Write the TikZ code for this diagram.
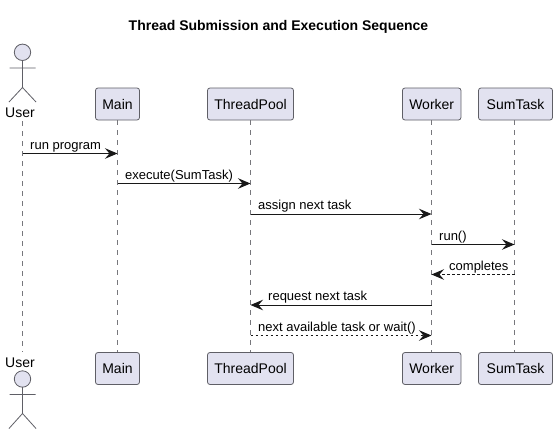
\documentclass[tikz,border=0pt]{standalone}
\usepackage{fontspec}
\setmainfont{Liberation Sans}
\usetikzlibrary{arrows.meta,calc}
\definecolor{partfill}{HTML}{E2E2F0}
\definecolor{partline}{HTML}{5F5F66}
\definecolor{lifeline}{HTML}{77777C}
\definecolor{msgline}{HTML}{181818}
\tikzset{
  x=1pt,y=-1pt,
  participant/.style={draw=partline,fill=partfill,line width=0.8pt,rounded corners=2.5pt,anchor=center,inner sep=0pt,minimum height=32pt,font=\fontsize{14}{16}\selectfont,text=black},
  actorlabel/.style={inner sep=0pt,font=\fontsize{14}{16}\selectfont,text=black},
  lifelinestyle/.style={draw=lifeline,line width=0.8pt,dash pattern=on 5pt off 5pt},
  actorshape/.style={draw=partline,line width=0.8pt},
  msg/.style={draw=msgline,line width=1pt,-{Stealth[length=12.5pt,width=10.5pt,inset=4.5pt]}},
  reply/.style={msg,dash pattern=on 2.5pt off 2.5pt},
  msglabel/.style={inner sep=0pt,anchor=base west,font=\fontsize{13}{15}\selectfont,text=black},
}
\begin{document}
\begin{tikzpicture}
\useasboundingbox (0,0) rectangle (557,434);
\fill[white] (0,0) rectangle (557,434);
\node[inner sep=0pt,font=\fontsize{14}{16}\selectfont\bfseries] (title) at (278.5,26.5) {Thread Submission and Execution Sequence};
% top row
\node[actorlabel] (userT) at (20,113) {User};
\node[participant,minimum width=44pt] (mainT) at (117.5,104) {Main};
\node[participant,minimum width=86pt] (poolT) at (250.5,104) {ThreadPool};
\node[participant,minimum width=58.5pt] (workerT) at (431.7,104) {Worker};
\node[participant,minimum width=74pt] (taskT) at (515.5,104) {SumTask};
% bottom row
\node[actorlabel] (userB) at (20,362.5) {User};
\node[participant,minimum width=44pt] (mainB) at (117.5,368.5) {Main};
\node[participant,minimum width=86pt] (poolB) at (250.5,368.5) {ThreadPool};
\node[participant,minimum width=58.5pt] (workerB) at (431.7,368.5) {Worker};
\node[participant,minimum width=74pt] (taskB) at (515.5,368.5) {SumTask};
% lifeline ends
\coordinate (uTop) at (22.5,121);
\coordinate (uBot) at (22.5,352);
\coordinate (mTop) at (117.5,120);
\coordinate (mBot) at (117.5,352);
\coordinate (pTop) at (250.5,120);
\coordinate (pBot) at (250.5,352);
\coordinate (wTop) at (431.5,120);
\coordinate (wBot) at (431.5,352);
\coordinate (sTop) at (514.5,120);
\coordinate (sBot) at (514.5,352);
\draw[lifelinestyle] (uTop) -- (uBot);
\draw[lifelinestyle] (mTop) -- (mBot);
\draw[lifelinestyle] (pTop) -- (pBot);
\draw[lifelinestyle] (wTop) -- (wBot);
\draw[lifelinestyle] (sTop) -- (sBot);
% actors
\draw[actorshape,fill=partfill] (22.5,52.3) circle (8.2);
\draw[actorshape] (22.5,60.5) -- (22.5,87.5) (9.5,68) -- (35.5,68) (9,102) -- (22.5,87.5) -- (36,102);
\draw[actorshape,fill=partfill] (22.5,379) circle (8.2);
\draw[actorshape] (22.5,387.2) -- (22.5,413.5) (9.5,394.5) -- (35.5,394.5) (9,428.5) -- (22.5,413.5) -- (36,428.5);
% messages
\draw[msg] ($(uTop)+(0,32.5)$) coordinate (a1) -- (a1 -| mTop);
\node[msglabel] (l1) at (30,149) {run program};
\draw[msg] ($(mTop)+(0,63.5)$) coordinate (a2) -- (a2 -| pTop);
\node[msglabel] (l2) at (125,179) {execute(SumTask)};
\draw[msg] ($(pTop)+(0,94)$) coordinate (a3) -- (a3 -| wTop);
\node[msglabel] (l3) at (258,209.5) {assign next task};
\draw[msg] ($(wTop)+(0,124.5)$) coordinate (a4) -- (a4 -| sTop);
\node[msglabel] (l4) at (439,240) {run()};
\draw[reply] ($(sTop)+(0,154.5)$) coordinate (a5) -- (a5 -| wTop);
\node[msglabel] (l5) at (449,270) {completes};
\draw[msg] ($(wTop)+(0,185)$) coordinate (a6) -- (a6 -| pTop);
\node[msglabel] (l6) at (268,300.5) {request next task};
\draw[reply] ($(pTop)+(0,215.5)$) coordinate (a7) -- (a7 -| wTop);
\node[msglabel] (l7) at (258,331) {next available task or wait()};
\end{tikzpicture}
\end{document}
